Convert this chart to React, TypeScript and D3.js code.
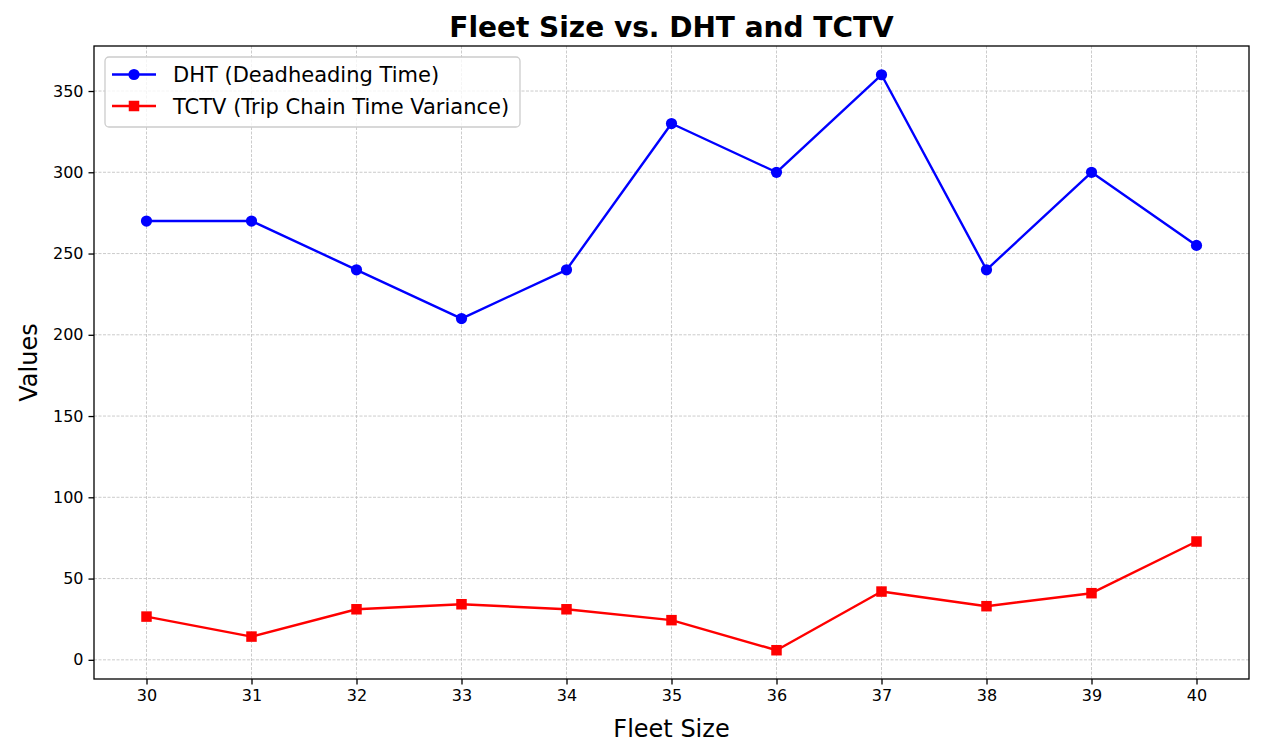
import * as React from "react";
import { useEffect, useRef } from "react";
import * as d3 from "d3";

const fleetSizes = [30, 31, 32, 33, 34, 35, 36, 37, 38, 39, 40];
const dhtValues = [270, 270, 240, 210, 240, 330, 300, 360, 240, 300, 255];
const tctvValues = [26.6, 14.3, 31.1, 34.2, 31.1, 24.4, 5.9, 42.0, 33.0, 41.0, 72.8];
const yTicks = [0, 50, 100, 150, 200, 250, 300, 350];

const WIDTH = 1262;
const HEIGHT = 749;
const margin = { top: 46, right: 13, bottom: 70, left: 94 };
const FONT = "'DejaVu Sans', sans-serif";

export default function App() {
  const svgRef = useRef<SVGSVGElement>(null);

  useEffect(() => {
    if (!svgRef.current) return;
    const svg = d3.select(svgRef.current);
    svg.selectAll("*").remove();

    const x0 = margin.left;
    const x1 = WIDTH - margin.right;
    const y0 = HEIGHT - margin.bottom;
    const y1 = margin.top;

    // matplotlib-style 5% padding
    const allY = [...dhtValues, ...tctvValues];
    const yMin = d3.min(allY)!;
    const yMax = d3.max(allY)!;
    const pad = (yMax - yMin) * 0.05;

    const xScale = d3.scaleLinear().domain([29.5, 40.5]).range([x0, x1]);
    const yScale = d3.scaleLinear().domain([yMin - pad, yMax + pad]).range([y0, y1]);

    svg.append("rect").attr("width", WIDTH).attr("height", HEIGHT).attr("fill", "white");

    // grid
    const grid = svg.append("g").attr("stroke", "#b0b0b0").attr("stroke-width", 0.8)
      .attr("stroke-dasharray", "3,1.5").attr("opacity", 0.8);
    fleetSizes.forEach(v => {
      grid.append("line").attr("x1", xScale(v)).attr("x2", xScale(v)).attr("y1", y0).attr("y2", y1);
    });
    yTicks.forEach(v => {
      grid.append("line").attr("x1", x0).attr("x2", x1).attr("y1", yScale(v)).attr("y2", yScale(v));
    });

    // axes
    const xAxis = d3.axisBottom(xScale).tickValues(fleetSizes).tickFormat(d3.format("d"))
      .tickSizeInner(5.5).tickSizeOuter(0).tickPadding(5);
    const yAxis = d3.axisLeft(yScale).tickValues(yTicks).tickFormat(d3.format("d"))
      .tickSizeInner(5.5).tickSizeOuter(0).tickPadding(5);

    const gx = svg.append("g").attr("transform", `translate(0,${y0})`).call(xAxis);
    const gy = svg.append("g").attr("transform", `translate(${x0},0)`).call(yAxis);
    [gx, gy].forEach(g => {
      g.select(".domain").remove();
      g.selectAll("line").attr("stroke", "black").attr("stroke-width", 1.3);
      g.selectAll("text").attr("font-family", FONT).attr("font-size", 16).attr("fill", "black");
    });

    // line series
    const line = d3.line<number>().x((_, i) => xScale(fleetSizes[i])).y(d => yScale(d));

    svg.append("path").datum(dhtValues).attr("d", line).attr("fill", "none")
      .attr("stroke", "blue").attr("stroke-width", 2.4).attr("stroke-linejoin", "round");
    svg.append("g").selectAll("circle").data(dhtValues).join("circle")
      .attr("cx", (_, i) => xScale(fleetSizes[i])).attr("cy", d => yScale(d))
      .attr("r", 5.6).attr("fill", "blue");

    svg.append("path").datum(tctvValues).attr("d", line).attr("fill", "none")
      .attr("stroke", "red").attr("stroke-width", 2.4).attr("stroke-linejoin", "round");
    const sq = 10.5;
    svg.append("g").selectAll("rect").data(tctvValues).join("rect")
      .attr("x", (_, i) => xScale(fleetSizes[i]) - sq / 2).attr("y", d => yScale(d) - sq / 2)
      .attr("width", sq).attr("height", sq).attr("fill", "red");

    // frame
    svg.append("rect").attr("x", x0).attr("y", y1).attr("width", x1 - x0).attr("height", y0 - y1)
      .attr("fill", "none").attr("stroke", "black").attr("stroke-width", 1.3);

    // legend
    const lg = svg.append("g");
    lg.append("rect").attr("x", 105).attr("y", 57).attr("width", 415).attr("height", 70)
      .attr("rx", 4).attr("fill", "white").attr("fill-opacity", 0.8)
      .attr("stroke", "#cccccc").attr("stroke-width", 1.3);
    const items = [
      { label: "DHT (Deadheading Time)", color: "blue", shape: "circle" },
      { label: "TCTV (Trip Chain Time Variance)", color: "red", shape: "square" },
    ];
    items.forEach((it, i) => {
      const cy = 74.5 + i * 31.5;
      lg.append("line").attr("x1", 112).attr("x2", 156).attr("y1", cy).attr("y2", cy)
        .attr("stroke", it.color).attr("stroke-width", 2.4);
      if (it.shape === "circle") {
        lg.append("circle").attr("cx", 134).attr("cy", cy).attr("r", 5.6).attr("fill", it.color);
      } else {
        lg.append("rect").attr("x", 134 - sq / 2).attr("y", cy - sq / 2)
          .attr("width", sq).attr("height", sq).attr("fill", it.color);
      }
      lg.append("text").attr("x", 173).attr("y", cy).attr("dy", "0.36em")
        .attr("font-family", FONT).attr("font-size", 21).attr("fill", "black").text(it.label);
    });

    // title & labels
    svg.append("text").attr("x", (x0 + x1) / 2).attr("y", 36.5).attr("text-anchor", "middle")
      .attr("font-family", FONT).attr("font-size", 28).attr("font-weight", "bold")
      .text("Fleet Size vs. DHT and TCTV");
    svg.append("text").attr("x", (x0 + x1) / 2).attr("y", 736.5).attr("text-anchor", "middle")
      .attr("font-family", FONT).attr("font-size", 24).text("Fleet Size");
    svg.append("text").attr("transform", `translate(36.5,${(y0 + y1) / 2}) rotate(-90)`)
      .attr("text-anchor", "middle").attr("font-family", FONT).attr("font-size", 24).text("Values");
  }, []);

  return (
    <svg
      ref={svgRef}
      width={WIDTH}
      height={HEIGHT}
      style={{ position: "absolute", left: 0, top: 0, display: "block" }}
    />
  );
}
